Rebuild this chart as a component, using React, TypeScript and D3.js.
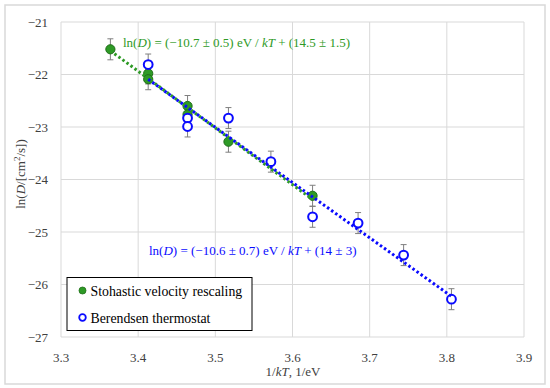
import React from "react";
import * as d3 from "d3";

const svrX = [3.364, 3.413, 3.413, 3.464, 3.464, 3.517, 3.626];
const svrY = [-21.52, -21.98, -22.09, -22.6, -22.76, -23.28, -24.31];
const berX = [3.413, 3.464, 3.464, 3.517, 3.572, 3.626, 3.685, 3.744, 3.806];
const berY = [-21.81, -22.83, -22.99, -22.83, -23.66, -24.71, -24.83, -25.44, -26.28];
const errBar = 0.2;
const xTicks = [3.3, 3.4, 3.5, 3.6, 3.7, 3.8, 3.9];
const yTicks = [-21, -22, -23, -24, -25, -26, -27];
const seriesNames = ["Stohastic velocity rescaling", "Berendsen thermostat"];

const W = 550, H = 388;
const M = { l: 61, r: 524, t: 22, b: 337 };
const GREEN = "#2e9a26";
const GREEN_DARK = "#1f6e18";
const BLUE = "#0a0aff";
const FONT = "'Liberation Serif', 'Times New Roman', Times, serif";

function fit(xs: number[], ys: number[]) {
  const mx = d3.mean(xs)!, my = d3.mean(ys)!;
  let sxy = 0, sxx = 0;
  xs.forEach((x, i) => { sxy += (x - mx) * (ys[i] - my); sxx += (x - mx) ** 2; });
  const a = sxy / sxx;
  return { a, b: my - a * mx, x0: d3.min(xs)!, x1: d3.max(xs)! };
}

export default function App() {
  const x = d3.scaleLinear().domain([3.3, 3.9]).range([M.l, M.r]);
  const y = d3.scaleLinear().domain([-21, -27]).range([M.t, M.b]);
  const fg = fit(svrX, svrY);
  const fb = fit(berX, berY);
  const trend = (f: { a: number; b: number; x0: number; x1: number }) =>
    d3.line()([[x(f.x0), y(f.a * f.x0 + f.b)], [x(f.x1), y(f.a * f.x1 + f.b)]]) || "";
  const err = (xs: number[], ys: number[], key: string) =>
    xs.map((xv, i) => {
      const cx = x(xv), t = y(ys[i] + errBar), bt = y(ys[i] - errBar);
      return (
        <g key={key + i} stroke="#7f7f7f" strokeWidth={1}>
          <line x1={cx} x2={cx} y1={t} y2={bt} />
          <line x1={cx - 3} x2={cx + 3} y1={t} y2={t} />
          <line x1={cx - 3} x2={cx + 3} y1={bt} y2={bt} />
        </g>
      );
    });
  return (
    <svg width={W} height={H} style={{ position: "absolute", left: 0, top: 0, fontFamily: FONT }}>
      <rect x={0} y={0} width={W} height={H} fill="#fff" />
      <rect x={5} y={5} width={540} height={379} fill="none" stroke="#d9d9d9" strokeWidth={1.5} />
      {xTicks.map(t => (
        <line key={"gx" + t} x1={x(t)} x2={x(t)} y1={M.t} y2={M.b} stroke="#d9d9d9" strokeWidth={1} />
      ))}
      {yTicks.map(t => (
        <line key={"gy" + t} x1={M.l} x2={M.r} y1={y(t)} y2={y(t)} stroke="#d9d9d9" strokeWidth={1} />
      ))}
      {xTicks.map(t => (
        <text key={"tx" + t} x={x(t)} y={362} textAnchor="middle" fontSize={13} fill="#404040">{t.toFixed(1)}</text>
      ))}
      {yTicks.map(t => (
        <text key={"ty" + t} x={48} y={y(t) + 4.5} textAnchor="end" fontSize={13} fill="#404040">{"\u2212" + Math.abs(t)}</text>
      ))}
      <text x={293} y={376} textAnchor="middle" fontSize={13} fill="#404040">
        1/<tspan fontStyle="italic">kT</tspan>, 1/eV
      </text>
      <text transform="translate(25,174) rotate(-90)" textAnchor="middle" fontSize={13} fill="#404040">
        ln(<tspan fontStyle="italic">D</tspan>/[cm<tspan fontSize={9} dy={-5}>2</tspan><tspan dy={5}>/s])</tspan>
      </text>
      {err(svrX, svrY, "es")}
      {err(berX, berY, "eb")}
      {svrX.map((xv, i) => (
        <circle key={"s" + i} cx={x(xv)} cy={y(svrY[i])} r={4.6} fill={GREEN} stroke={GREEN_DARK} strokeWidth={1} />
      ))}
      {berX.map((xv, i) => (
        <circle key={"b" + i} cx={x(xv)} cy={y(berY[i])} r={4.4} fill="#fff" stroke={BLUE} strokeWidth={2} />
      ))}
      <path d={trend(fg)} stroke={GREEN} strokeWidth={3} strokeDasharray="2.5 2.5" fill="none" />
      <path d={trend(fb)} stroke={BLUE} strokeWidth={3} strokeDasharray="2.5 2.5" fill="none" />
      <text x={123} y={47} fontSize={13} fill={GREEN}>
        ln(<tspan fontStyle="italic">D</tspan>) = (−10.7 ± 0.5) eV / <tspan fontStyle="italic">kT</tspan> + (14.5 ± 1.5)
      </text>
      <text x={149} y={254.5} fontSize={13} fill={BLUE}>
        ln(<tspan fontStyle="italic">D</tspan>) = (−10.6 ± 0.7) eV / <tspan fontStyle="italic">kT</tspan> + (14 ± 3)
      </text>
      <rect x={67} y={277.5} width={185} height={53} fill="#fff" stroke="#000" strokeWidth={1} />
      <circle cx={82.5} cy={290.5} r={3.5} fill={GREEN} stroke={GREEN_DARK} strokeWidth={0.8} />
      <text x={90.5} y={295.5} fontSize={13.8} fill="#000">{seriesNames[0]}</text>
      <circle cx={82.5} cy={317.5} r={3.3} fill="#fff" stroke={BLUE} strokeWidth={1.8} />
      <text x={90.5} y={322.5} fontSize={13.8} fill="#000">{seriesNames[1]}</text>
    </svg>
  );
}
